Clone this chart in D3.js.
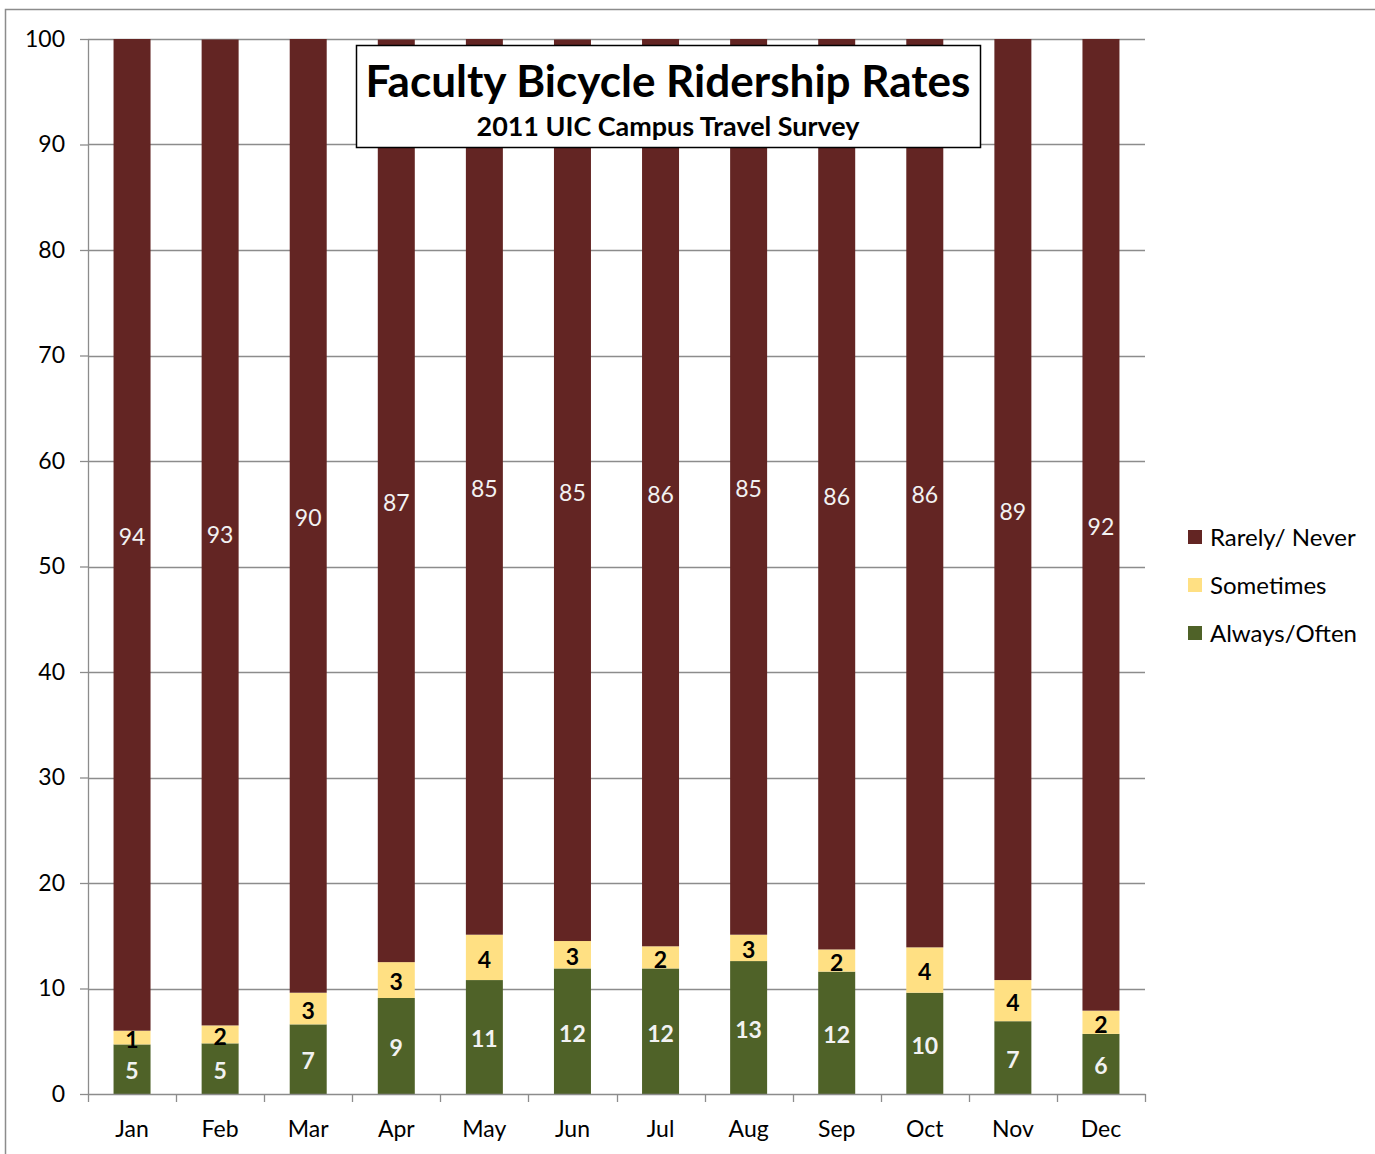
<!doctype html>
<html lang="en">
<head>
<meta charset="utf-8" />
<title>Faculty Bicycle Ridership Rates</title>
<script src="https://d3js.org/d3.v7.min.js"></script>
<style>
  body { margin: 0; background: #fff; }
  svg text { font-family: Lato, "Open Sans", sans-serif; }
</style>
</head>
<body>
<div id="chart"></div>
<script>
// months on the x axis
var months = ["Jan", "Feb", "Mar", "Apr", "May", "Jun", "Jul", "Aug", "Sep", "Oct", "Nov", "Dec"];
// percent of faculty
var alwaysOften = [4.7, 4.8, 6.6, 9.1, 10.8, 11.9, 11.9, 12.6, 11.6, 9.6, 6.9, 5.7];
var sometimes   = [1.3, 1.7, 3.0, 3.4, 4.3, 2.6, 2.1, 2.5, 2.1, 4.3, 3.9, 2.2];
var rarelyNever = [94.0, 93.45, 90.4, 87.45, 84.9, 85.45, 86.0, 84.9, 86.3, 86.1, 89.2, 92.1];
var yTicks = [0, 10, 20, 30, 40, 50, 60, 70, 80, 90, 100];
var seriesNames = ["Always/Often", "Sometimes", "Rarely/ Never"];

var colors = { "Always/Often": "#4F6228", "Sometimes": "#FFE083", "Rarely/ Never": "#632523" };

var width = 1375, height = 1154;
var plot = { left: 88, right: 1145, top: 39, bottom: 1094 };

var svg = d3.select("#chart").append("svg")
    .attr("width", width)
    .attr("height", height);

// outer chart frame
svg.append("rect")
    .attr("x", 5.5).attr("y", 9.5)
    .attr("width", width).attr("height", height)
    .attr("fill", "none")
    .attr("stroke", "#8c8c8c")
    .attr("stroke-width", 1.5);

var table = months.map((m, i) => ({
    month: m,
    "Always/Often": alwaysOften[i],
    "Sometimes": sometimes[i],
    "Rarely/ Never": rarelyNever[i]
}));
var stacked = d3.stack().keys(seriesNames)(table);

var x = d3.scaleBand().domain(months)
    .range([plot.left, plot.right])
    .paddingInner(0.58).paddingOuter(0.29);
var y = d3.scaleLinear().domain([0, 100]).range([plot.bottom, plot.top]).clamp(true);

// gridlines
svg.append("g").selectAll("line")
    .data(yTicks.filter(t => t > 0))
    .enter().append("line")
    .attr("x1", plot.left).attr("x2", plot.right)
    .attr("y1", d => Math.round(y(d)) + 0.5).attr("y2", d => Math.round(y(d)) + 0.5)
    .attr("stroke", "#8c8c8c").attr("stroke-width", 1.3);

// y axis
var yAxis = svg.append("g")
    .attr("transform", `translate(${plot.left},0)`)
    .call(d3.axisLeft(y).tickValues(yTicks).tickSize(8).tickPadding(15).tickSizeOuter(0));
yAxis.select(".domain").attr("stroke", "#8c8c8c").attr("stroke-width", 1.3);
yAxis.selectAll(".tick line").attr("stroke", "#8c8c8c").attr("stroke-width", 1.3);
yAxis.selectAll(".tick text").attr("font-size", 23).attr("fill", "#000")
    .attr("font-family", "Lato, sans-serif");

// bars
var groups = svg.append("g").selectAll("g.series")
    .data(stacked)
    .enter().append("g")
    .attr("class", "series")
    .attr("fill", d => colors[d.key]);

groups.selectAll("rect")
    .data(d => d)
    .enter().append("rect")
    .attr("x", d => x(d.data.month))
    .attr("width", x.bandwidth())
    .attr("y", d => y(d[1]))
    .attr("height", d => y(d[0]) - y(d[1]));

// x axis
var xAxis = svg.append("g")
    .attr("transform", `translate(0,${plot.bottom})`)
    .call(d3.axisBottom(x).tickSize(0).tickPadding(27).tickSizeOuter(0));
xAxis.select(".domain").attr("stroke", "#8c8c8c").attr("stroke-width", 1.3);
xAxis.selectAll(".tick text").attr("font-size", 23).attr("fill", "#000")
    .attr("font-family", "Lato, sans-serif");
// category boundary ticks
var step = x.step();
svg.append("g").selectAll("line")
    .data(d3.range(months.length + 1))
    .enter().append("line")
    .attr("x1", i => Math.round(plot.left + i * step) + 0.5)
    .attr("x2", i => Math.round(plot.left + i * step) + 0.5)
    .attr("y1", plot.bottom).attr("y2", plot.bottom + 8)
    .attr("stroke", "#8c8c8c").attr("stroke-width", 1.3);

// value labels
var labelStyle = {
    "Always/Often": { fill: "#f2f2f2", weight: "bold" },
    "Sometimes": { fill: "#000", weight: "bold" },
    "Rarely/ Never": { fill: "#f2f2f2", weight: "normal" }
};
stacked.forEach(s => {
    svg.append("g").selectAll("text")
        .data(s)
        .enter().append("text")
        .attr("x", d => x(d.data.month) + x.bandwidth() / 2)
        .attr("y", d => (y(d[0]) + y(Math.min(d[1], 100))) / 2 + 2)
        .attr("dy", "0.36em")
        .attr("text-anchor", "middle")
        .attr("font-size", 23)
        .attr("font-weight", labelStyle[s.key].weight)
        .attr("fill", labelStyle[s.key].fill)
        .text(d => Math.round(d.data[s.key]));
});

// title box
var tb = svg.append("g");
tb.append("rect")
    .attr("x", 356.5).attr("y", 45.5)
    .attr("width", 624).attr("height", 102)
    .attr("fill", "#fff").attr("stroke", "#000").attr("stroke-width", 1.5);
var t1 = tb.append("text")
    .attr("x", 668).attr("y", 97)
    .attr("text-anchor", "middle")
    .attr("font-size", 40).attr("font-weight", "bold")
    .text("Faculty Bicycle Ridership Rates");
var w1 = t1.node().getComputedTextLength();
t1.attr("font-size", 40 * 605 / w1);
var t2 = tb.append("text")
    .attr("x", 668).attr("y", 136)
    .attr("text-anchor", "middle")
    .attr("font-size", 24).attr("font-weight", "bold")
    .text("2011 UIC Campus Travel Survey");
var w2 = t2.node().getComputedTextLength();
t2.attr("font-size", 24 * 383 / w2);

// legend
var legendItems = seriesNames.slice().reverse();
var legend = svg.append("g").selectAll("g")
    .data(legendItems)
    .enter().append("g")
    .attr("transform", (d, i) => `translate(1188,${537 + i * 48})`);
legend.append("rect")
    .attr("x", 0).attr("y", -7)
    .attr("width", 14).attr("height", 14)
    .attr("fill", d => colors[d]);
legend.append("text")
    .attr("x", 22).attr("y", 0).attr("dy", "0.36em")
    .attr("font-size", 24)
    .text(d => d);
</script>
</body>
</html>
